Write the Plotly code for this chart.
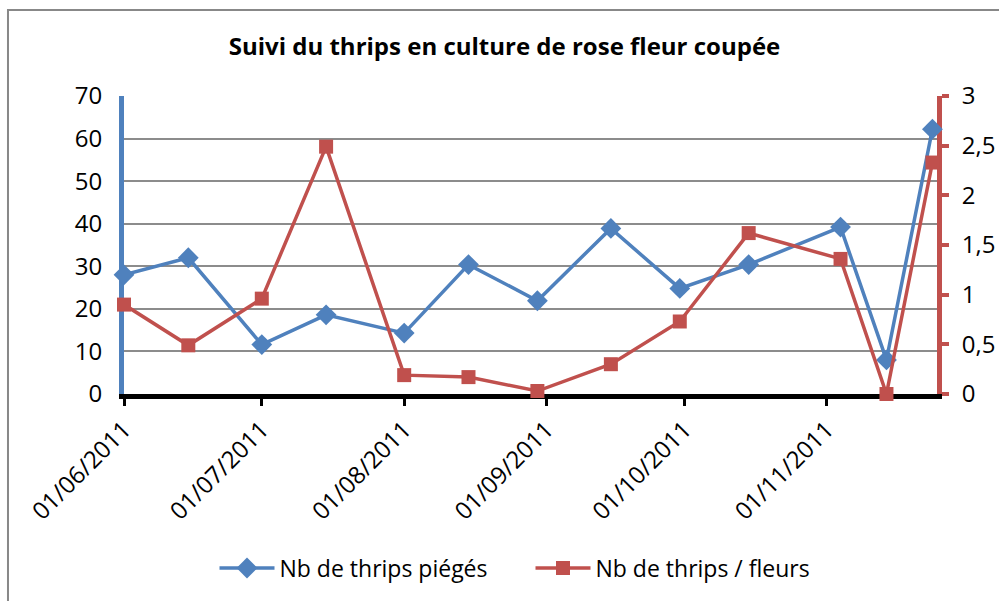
import plotly.graph_objects as go

# releves
dates = ["2011-06-01", "2011-06-15", "2011-07-01", "2011-07-15", "2011-08-01",
         "2011-08-15", "2011-08-30", "2011-09-15", "2011-09-30", "2011-10-15",
         "2011-11-04", "2011-11-14", "2011-11-24"]
thrips_pieges = [28, 32, 11.6, 18.6, 14.3, 30.4, 21.9, 38.9, 24.8, 30.4, 39.2, 8, 62.2]
thrips_fleurs = [0.9, 0.49, 0.96, 2.49, 0.19, 0.17, 0.03, 0.3, 0.73, 1.62, 1.36, 0, 2.33]

bleu = '#4F81BD'
rouge = '#C0504D'
police = 'Open Sans'

fig = go.Figure()

fig.add_scatter(x=dates, y=thrips_pieges, name='Nb de thrips piégés',
                mode='lines+markers', cliponaxis=False,
                line=dict(color=bleu, width=3.5),
                marker=dict(symbol='diamond', size=16, color=bleu))
fig.add_scatter(x=dates, y=thrips_fleurs, name='Nb de thrips / fleurs',
                mode='lines+markers', cliponaxis=False, yaxis='y2',
                line=dict(color=rouge, width=3.5),
                marker=dict(symbol='square', size=14, color=rouge))

fig.update_layout(
    width=999, height=601,
    margin=dict(l=124, r=62, t=96, b=207),
    paper_bgcolor='white', plot_bgcolor='white',
    separators=', ',
    font=dict(family=police, size=23, color='black'),
    title=dict(text='<b>Suivi du thrips en culture de rose fleur coupée</b>',
               x=0.505, xanchor='center', y=0.922, yanchor='middle',
               font=dict(family=police, size=24, color='black')),
    xaxis=dict(type='date', range=['2011-06-01', '2011-11-25'],
               tick0='2011-06-01', dtick='M1', tickformat='%d/%m/%Y',
               tickangle=-45, showgrid=False, zeroline=False, automargin=False,
               showline=True, linecolor='black', linewidth=5,
               ticks='outside', ticklen=7, tickwidth=3, tickcolor='black',
               layer='below traces', tickfont=dict(size=24)),
    yaxis=dict(range=[0, 70], dtick=10, showgrid=True, gridcolor='#8C8C8C',
               gridwidth=1.5, zeroline=False, showline=True, linecolor=bleu,
               linewidth=5, ticks='', ticklabelstandoff=12, automargin=False,
               layer='below traces', tickfont=dict(size=24)),
    yaxis2=dict(range=[0, 3], dtick=0.5, overlaying='y', side='right',
                showgrid=False, zeroline=False, showline=True, linecolor=rouge,
                linewidth=5, ticks='outside', ticklen=7, tickwidth=4,
                tickcolor=rouge, ticklabelstandoff=8, automargin=False,
                layer='below traces', tickfont=dict(size=24)),
    legend=dict(orientation='h', x=0.5, xanchor='center', y=-0.584,
                yanchor='middle', itemwidth=55, entrywidth=246,
                entrywidthmode='pixels', font=dict(size=23)),
    showlegend=True,
)

# cadre du graphique
fig.add_shape(type='rect', xref='paper', yref='paper',
              x0=-0.1427, y0=-0.73, x1=1.09, y1=1.2886,
              line=dict(color='#888888', width=2), layer='below')

fig.write_html("out.html", config={'displayModeBar': False},
               post_script="document.body.style.margin='0';")
